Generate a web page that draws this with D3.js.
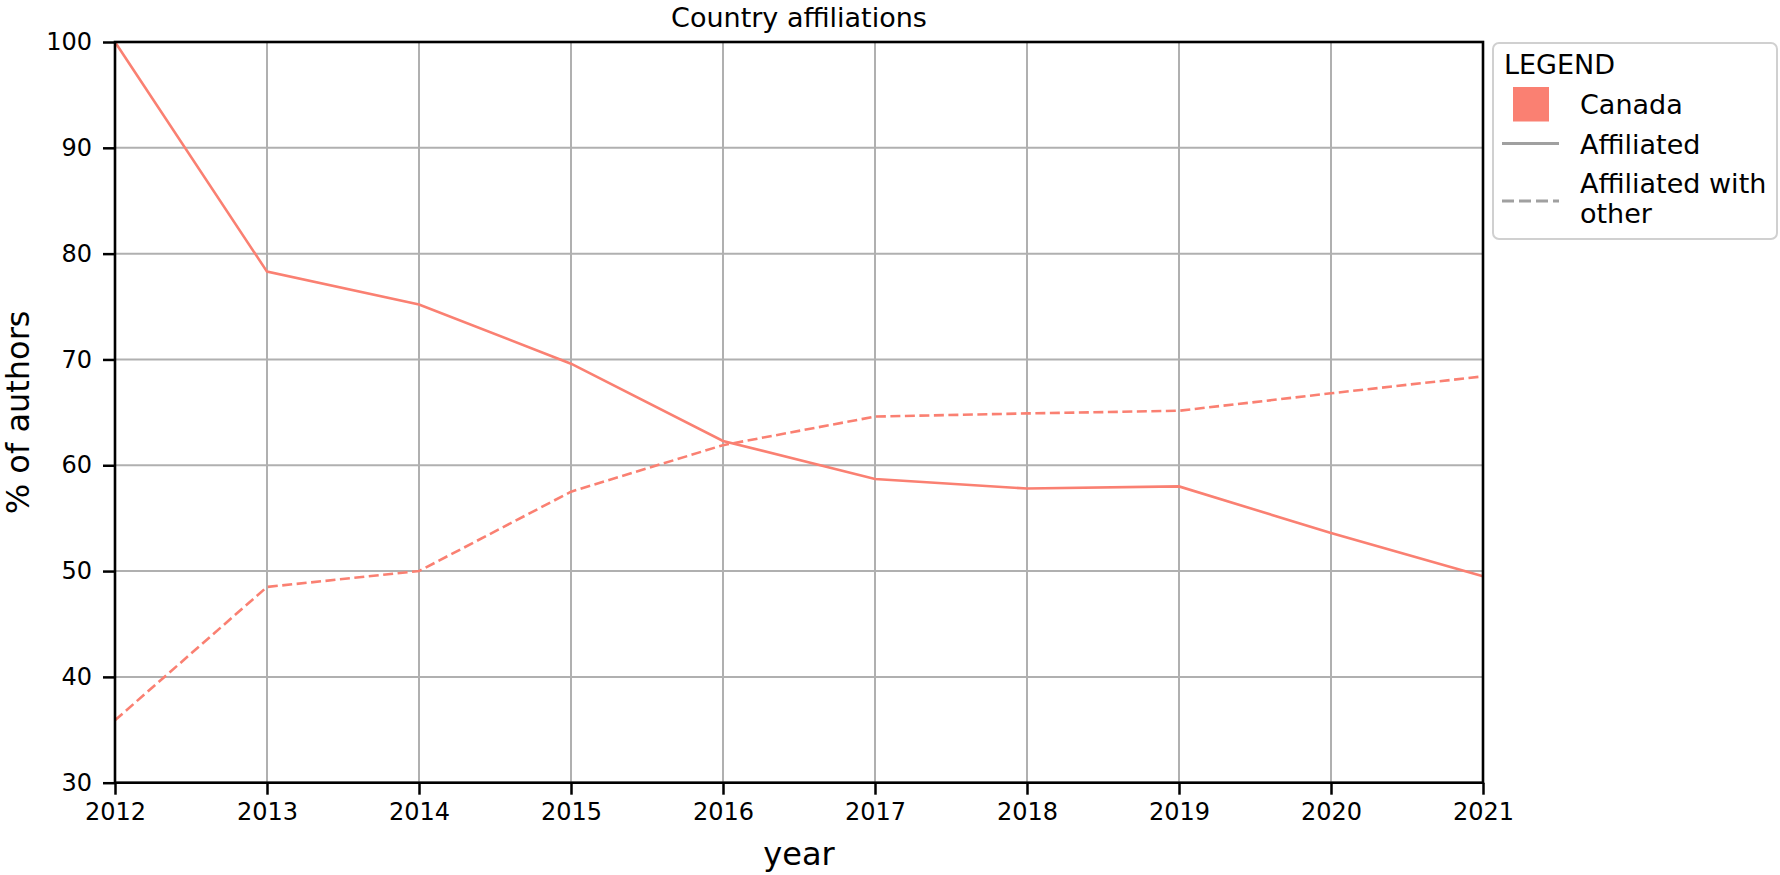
<!DOCTYPE html>
<html>
<head>
<meta charset="utf-8">
<script src="https://cdn.jsdelivr.net/npm/d3@7"></script>
<style>
  html, body { margin: 0; padding: 0; background: #fff; }
  svg { display: block; font-family: "DejaVu Sans", sans-serif; }
</style>
</head>
<body>
<svg id="chart" width="1780" height="875"></svg>
<script>
const years = [2012, 2013, 2014, 2015, 2016, 2017, 2018, 2019, 2020, 2021];
const affiliated = [100, 78.3, 75.2, 69.6, 62.3, 58.7, 57.8, 58.0, 53.6, 49.5];
const affiliatedOther = [35.9, 48.5, 50.0, 57.5, 61.9, 64.6, 64.9, 65.15, 66.8, 68.4];
const yTicks = [30, 40, 50, 60, 70, 80, 90, 100];
const seriesColor = "#fa8072";
const legendItems = ["Canada", "Affiliated", "Affiliated with", "other"];

const svg = d3.select("#chart");
const margin = { left: 115, right: 1483, top: 42, bottom: 782.7 };

const x = d3.scaleLinear().domain([2012, 2021]).range([margin.left, margin.right]);
const y = d3.scaleLinear().domain([30, 100]).range([margin.bottom, margin.top]);

// grid
const grid = svg.append("g");
grid.selectAll("line.v").data(years).join("line")
  .attr("x1", d => x(d)).attr("x2", d => x(d))
  .attr("y1", margin.top).attr("y2", margin.bottom)
  .attr("stroke", "#b0b0b0").attr("stroke-width", 2);
grid.selectAll("line.h").data(yTicks).join("line")
  .attr("x1", margin.left).attr("x2", margin.right)
  .attr("y1", d => y(d)).attr("y2", d => y(d))
  .attr("stroke", "#b0b0b0").attr("stroke-width", 2);

// lines
const line = d3.line().x((d, i) => x(years[i])).y(d => y(d));
svg.append("path").datum(affiliated)
  .attr("d", line).attr("fill", "none")
  .attr("stroke", seriesColor).attr("stroke-width", 2.6);
svg.append("path").datum(affiliatedOther)
  .attr("d", line).attr("fill", "none")
  .attr("stroke", seriesColor).attr("stroke-width", 2.6)
  .attr("stroke-dasharray", "10,4.5");

// axes
const xAxis = d3.axisBottom(x).tickValues(years).tickFormat(d3.format("d"))
  .tickSizeInner(12).tickSizeOuter(0).tickPadding(8);
const gx = svg.append("g").attr("transform", `translate(0,${margin.bottom})`).call(xAxis);
const yAxis = d3.axisLeft(y).tickValues(yTicks).tickFormat(d3.format("d"))
  .tickSizeInner(12).tickSizeOuter(0).tickPadding(11);
const gy = svg.append("g").attr("transform", `translate(${margin.left},0)`).call(yAxis);
[gx, gy].forEach(g => {
  g.select(".domain").remove();
  g.selectAll(".tick line").attr("stroke", "#000").attr("stroke-width", 2.5);
  g.selectAll(".tick text").attr("fill", "#000")
    .style("font-size", "24px").style("font-family", "DejaVu Sans");
});

// frame
svg.append("rect")
  .attr("x", margin.left).attr("y", margin.top)
  .attr("width", margin.right - margin.left).attr("height", margin.bottom - margin.top)
  .attr("fill", "none").attr("stroke", "#000").attr("stroke-width", 2.6);

// title and labels
svg.append("text").attr("x", (margin.left + margin.right) / 2).attr("y", 26.5)
  .attr("text-anchor", "middle").style("font-size", "27px").text("Country affiliations");
svg.append("text").attr("x", (margin.left + margin.right) / 2).attr("y", 865)
  .attr("text-anchor", "middle").style("font-size", "32px").text("year");
svg.append("text")
  .attr("transform", `translate(29,${(margin.top + margin.bottom) / 2}) rotate(-90)`)
  .attr("text-anchor", "middle").style("font-size", "32px").text("% of authors");

// legend
const lg = svg.append("g");
lg.append("rect").attr("x", 1493).attr("y", 43).attr("width", 284).attr("height", 196)
  .attr("rx", 6).attr("fill", "#fff").attr("stroke", "#d0d0d0").attr("stroke-width", 2);
lg.append("text").attr("x", 1504).attr("y", 74).style("font-size", "27px").text("LEGEND");
lg.append("rect").attr("x", 1513).attr("y", 87).attr("width", 36).attr("height", 34.5)
  .attr("fill", seriesColor);
lg.append("text").attr("x", 1580).attr("y", 113.5).style("font-size", "27px").text(legendItems[0]);
lg.append("line").attr("x1", 1502).attr("x2", 1559).attr("y1", 143.5).attr("y2", 143.5)
  .attr("stroke", "#a0a0a0").attr("stroke-width", 3);
lg.append("text").attr("x", 1580).attr("y", 154).style("font-size", "27px").text(legendItems[1]);
lg.append("line").attr("x1", 1502).attr("x2", 1559).attr("y1", 201).attr("y2", 201)
  .attr("stroke", "#a0a0a0").attr("stroke-width", 3).attr("stroke-dasharray", "12,5");
lg.append("text").attr("x", 1580).attr("y", 192.5).style("font-size", "27px").text(legendItems[2]);
lg.append("text").attr("x", 1580).attr("y", 222.5).style("font-size", "27px").text(legendItems[3]);
</script>
</body>
</html>
